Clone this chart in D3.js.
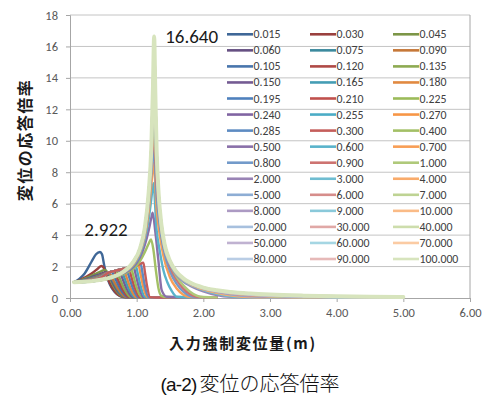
<!DOCTYPE html>
<html><head><meta charset="utf-8">
<script src="https://cdn.jsdelivr.net/npm/d3@7"></script>
<style>
html,body{margin:0;padding:0;background:#fff;}
svg{display:block;}
</style></head><body>
<svg id="chart" width="483" height="397"></svg>
<script>
// ---------------- data ----------------
const seriesNames = [
  "0.015","0.030","0.045","0.060","0.075","0.090",
  "0.105","0.120","0.135","0.150","0.165","0.180",
  "0.195","0.210","0.225","0.240","0.255","0.270",
  "0.285","0.300","0.400","0.500","0.600","0.700",
  "0.800","0.900","1.000","2.000","3.000","4.000",
  "5.000","6.000","7.000","8.000","9.000","10.000",
  "20.000","30.000","40.000","50.000","60.000","70.000",
  "80.000","90.000","100.000"
];

const xTicks = [0, 1, 2, 3, 4, 5, 6];
const yTicks = [0, 2, 4, 6, 8, 10, 12, 14, 16, 18];

// smallest amplitudes: early peak, then drop
const fanSeries = [
  [[0.06,1.00],[0.14,1.22],[0.22,1.56],[0.32,2.29],[0.39,2.78],[0.45,2.922],[0.48,2.78],[0.51,2.15],[0.55,1.40],[0.60,0.85],[0.67,0.38],[0.75,0.12],[0.84,0.04],[2.20,0.02]],
  [[0.06,1.00],[0.15,1.14],[0.25,1.36],[0.35,1.64],[0.42,1.88],[0.47,2.04],[0.50,1.96],[0.53,1.68],[0.57,1.20],[0.62,0.75],[0.69,0.33],[0.77,0.10],[0.86,0.04],[2.20,0.02]],
  [[0.06,1.00],[0.15,1.11],[0.25,1.28],[0.35,1.47],[0.45,1.66],[0.52,1.78],[0.55,1.70],[0.58,1.45],[0.62,1.05],[0.67,0.62],[0.73,0.28],[0.80,0.09],[0.88,0.04],[2.20,0.02]],
  [[0.06,1.00],[0.15,1.09],[0.25,1.22],[0.35,1.37],[0.45,1.52],[0.55,1.64],[0.575,1.57],[0.60,1.38],[0.64,1.00],[0.69,0.60],[0.75,0.27],[0.82,0.08],[0.90,0.04],[2.20,0.02]],
  [[0.06,1.00],[0.15,1.08],[0.25,1.19],[0.35,1.31],[0.45,1.44],[0.565,1.60],[0.59,1.52],[0.62,1.30],[0.66,0.95],[0.71,0.56],[0.77,0.24],[0.84,0.07],[0.92,0.04],[2.20,0.02]]
];

// 0.090 - 0.300: climb along a common branch, then jump down
const combSeries = [
  [[0.06,1.00],[0.15,1.06],[0.30,1.22],[0.45,1.42],[0.58,1.62],[0.645,1.17],[0.723,0.57],[0.84,0.06],[0.92,0.03],[2.20,0.02]],
  [[0.06,1.00],[0.15,1.06],[0.30,1.21],[0.45,1.40],[0.58,1.62],[0.62,1.67],[0.681,1.20],[0.755,0.58],[0.865,0.06],[0.945,0.03],[2.20,0.02]],
  [[0.06,1.00],[0.15,1.055],[0.30,1.20],[0.45,1.39],[0.58,1.62],[0.655,1.71],[0.713,1.23],[0.782,0.60],[0.885,0.06],[0.965,0.03],[2.20,0.02]],
  [[0.06,1.00],[0.15,1.055],[0.30,1.19],[0.45,1.37],[0.58,1.62],[0.69,1.74],[0.745,1.25],[0.811,0.61],[0.91,0.06],[0.99,0.03],[2.20,0.02]],
  [[0.06,1.00],[0.15,1.05],[0.30,1.18],[0.45,1.36],[0.58,1.62],[0.69,1.74],[0.73,1.78],[0.783,1.28],[0.846,0.62],[0.94,0.06],[1.02,0.03],[2.20,0.02]],
  [[0.06,1.00],[0.15,1.05],[0.30,1.17],[0.45,1.35],[0.58,1.62],[0.69,1.74],[0.765,1.81],[0.815,1.30],[0.875,0.63],[0.965,0.06],[1.045,0.03],[2.20,0.02]],
  [[0.06,1.00],[0.15,1.045],[0.30,1.16],[0.45,1.34],[0.58,1.62],[0.69,1.74],[0.80,1.85],[0.848,1.33],[0.905,0.65],[0.99,0.06],[1.07,0.03],[2.20,0.02]],
  [[0.06,1.00],[0.15,1.045],[0.30,1.15],[0.45,1.33],[0.58,1.62],[0.69,1.74],[0.80,1.85],[0.84,1.89],[0.885,1.36],[0.939,0.66],[1.02,0.06],[1.10,0.03],[2.20,0.02]],
  [[0.06,1.00],[0.15,1.04],[0.30,1.14],[0.45,1.32],[0.58,1.62],[0.69,1.74],[0.80,1.85],[0.875,1.93],[0.918,1.39],[0.969,0.68],[1.045,0.06],[1.125,0.03],[2.20,0.02]],
  [[0.06,1.00],[0.15,1.04],[0.30,1.14],[0.45,1.31],[0.58,1.62],[0.69,1.74],[0.80,1.85],[0.91,1.97],[0.95,1.42],[0.998,0.69],[1.07,0.06],[1.15,0.03],[2.20,0.02]],
  [[0.06,1.00],[0.15,1.035],[0.30,1.13],[0.45,1.30],[0.58,1.62],[0.69,1.74],[0.80,1.85],[0.91,1.97],[0.95,2.01],[0.988,1.45],[1.033,0.70],[1.10,0.06],[1.18,0.03],[2.20,0.02]],
  [[0.06,1.00],[0.15,1.035],[0.30,1.12],[0.45,1.29],[0.58,1.62],[0.69,1.74],[0.80,1.85],[0.91,1.97],[0.985,2.06],[1.02,1.48],[1.062,0.72],[1.125,0.06],[1.205,0.03],[2.20,0.02]],
  [[0.06,1.00],[0.15,1.03],[0.30,1.12],[0.45,1.28],[0.58,1.62],[0.69,1.74],[0.80,1.85],[0.91,1.97],[1.025,2.11],[1.058,1.52],[1.097,0.74],[1.155,0.06],[1.235,0.03],[2.20,0.02]],
  [[0.06,1.00],[0.15,1.03],[0.30,1.11],[0.45,1.27],[0.58,1.62],[0.69,1.74],[0.80,1.85],[0.91,1.97],[1.025,2.11],[1.06,2.17],[1.089,1.56],[1.123,0.76],[1.175,0.06],[1.255,0.03],[2.20,0.02]],
  [[0.06,1.00],[0.15,1.03],[0.30,1.11],[0.45,1.26],[0.58,1.62],[0.69,1.74],[0.80,1.85],[0.91,1.97],[1.025,2.11],[1.10,2.24],[1.125,1.61],[1.155,0.78],[1.20,0.06],[1.28,0.03],[2.20,0.02]]
];

// 0.400 - 1.000: resonance peaks that collapse right after the peak
const midSeries = [
  [[0.06,1.00],[0.30,1.05],[0.60,1.25],[0.80,1.52],[0.95,1.85],[1.05,2.35],[1.12,2.90],[1.18,3.45],[1.215,3.73],[1.25,3.10],[1.29,1.70],[1.33,0.55],[1.37,0.14],[1.45,0.06],[2.20,0.04]],
  [[0.06,1.00],[0.30,1.05],[0.60,1.26],[0.80,1.56],[0.95,1.98],[1.05,2.60],[1.12,3.35],[1.18,4.30],[1.22,5.10],[1.24,5.43],[1.28,4.20],[1.325,2.42],[1.375,0.50],[1.45,0.08],[1.60,0.05],[2.20,0.04]],
  [[0.06,1.00],[0.30,1.05],[0.60,1.27],[0.80,1.60],[0.95,2.08],[1.05,2.78],[1.12,3.70],[1.18,5.00],[1.22,6.30],[1.25,7.30],[1.30,4.30],[1.35,2.90],[1.40,1.78],[1.46,1.00],[1.525,0.45],[1.60,0.08],[1.75,0.05],[2.20,0.04]],
  [[0.06,1.00],[0.30,1.06],[0.60,1.27],[0.80,1.62],[0.95,2.14],[1.05,2.90],[1.12,3.90],[1.18,5.50],[1.22,7.20],[1.255,8.60],[1.30,5.60],[1.35,3.90],[1.40,2.70],[1.50,1.30],[1.60,0.60],[1.70,0.20],[1.80,0.06],[2.20,0.04]],
  [[0.06,1.00],[0.30,1.06],[0.60,1.28],[0.80,1.63],[0.95,2.20],[1.05,3.00],[1.12,4.05],[1.18,5.90],[1.22,7.90],[1.255,9.40],[1.30,6.40],[1.35,4.50],[1.40,3.20],[1.50,1.70],[1.60,0.90],[1.70,0.40],[1.80,0.12],[1.90,0.05],[2.20,0.04]],
  [[0.06,1.00],[0.30,1.06],[0.60,1.28],[0.80,1.64],[0.95,2.24],[1.05,3.05],[1.12,4.20],[1.18,6.20],[1.22,8.50],[1.258,10.20],[1.30,7.20],[1.35,5.00],[1.40,3.60],[1.50,2.00],[1.60,1.15],[1.70,0.60],[1.80,0.25],[1.90,0.08],[2.00,0.05],[2.20,0.04]],
  [[0.06,1.00],[0.30,1.06],[0.60,1.28],[0.80,1.65],[0.95,2.27],[1.05,3.10],[1.12,4.30],[1.18,6.40],[1.22,8.90],[1.26,11.10],[1.30,8.00],[1.35,5.50],[1.40,3.90],[1.50,2.20],[1.60,1.35],[1.70,0.80],[1.80,0.40],[1.90,0.15],[2.00,0.06],[2.20,0.04]]
];

// 2.000 - 100.000 share one set of input amplitudes
const xHigh = [0.06,0.30,0.60,0.80,0.95,1.05,1.12,1.18,1.22,1.245,1.262,1.28,1.30,1.33,1.37,1.42,1.50,1.60,1.70,1.80,2.00,2.20,2.40,2.70,3.00,3.50,4.00,4.50,5.00];
const highSeries = [
  [1.00,1.06,1.29,1.66,2.28,3.10,4.30,6.40,9.00,11.8,12.6,10.6,8.20,5.90,4.20,3.00,2.10,1.45,1.05,0.78,0.42,0.18,0.07,0.04,0.035,0.03,0.025,0.02,0.02],
  [1.00,1.06,1.29,1.66,2.29,3.12,4.34,6.50,9.20,12.4,13.4,11.3,8.60,6.10,4.35,3.10,2.18,1.50,1.10,0.84,0.50,0.26,0.11,0.045,0.035,0.03,0.025,0.02,0.02],
  [1.00,1.06,1.29,1.67,2.29,3.13,4.36,6.55,9.35,12.8,14.0,11.8,8.80,6.30,4.45,3.20,2.22,1.54,1.14,0.88,0.55,0.33,0.17,0.06,0.04,0.03,0.025,0.02,0.02],
  [1.00,1.06,1.29,1.67,2.30,3.14,4.37,6.60,9.45,13.0,14.5,12.1,9.00,6.40,4.52,3.26,2.26,1.57,1.17,0.91,0.59,0.39,0.24,0.10,0.05,0.035,0.03,0.025,0.02],
  [1.00,1.06,1.29,1.67,2.30,3.14,4.38,6.63,9.50,13.1,14.9,12.4,9.10,6.45,4.58,3.30,2.29,1.60,1.20,0.93,0.62,0.43,0.29,0.15,0.07,0.04,0.03,0.025,0.02],
  [1.00,1.06,1.29,1.67,2.30,3.15,4.39,6.65,9.52,13.2,15.2,12.6,9.20,6.50,4.62,3.33,2.31,1.62,1.22,0.95,0.64,0.45,0.32,0.20,0.11,0.05,0.035,0.03,0.025],
  [1.00,1.06,1.29,1.67,2.30,3.15,4.39,6.67,9.55,13.3,15.5,12.7,9.20,6.55,4.65,3.36,2.33,1.63,1.23,0.96,0.65,0.47,0.35,0.23,0.15,0.07,0.04,0.03,0.025],
  [1.00,1.06,1.29,1.67,2.30,3.15,4.40,6.68,9.57,13.4,15.7,12.8,9.25,6.57,4.67,3.38,2.34,1.64,1.24,0.97,0.65,0.48,0.36,0.25,0.17,0.10,0.05,0.035,0.03],
  [1.00,1.06,1.29,1.67,2.30,3.15,4.40,6.68,9.58,13.4,15.9,12.9,9.27,6.58,4.68,3.39,2.34,1.64,1.24,0.97,0.66,0.48,0.37,0.26,0.19,0.12,0.07,0.04,0.03],
  [1.00,1.06,1.29,1.67,2.30,3.15,4.40,6.69,9.59,13.4,16.3,12.9,9.28,6.59,4.69,3.39,2.34,1.64,1.24,0.97,0.65,0.47,0.36,0.26,0.20,0.13,0.09,0.065,0.05],
  [1.00,1.06,1.29,1.67,2.30,3.15,4.40,6.69,9.59,13.45,16.45,12.95,9.29,6.60,4.69,3.39,2.35,1.65,1.24,0.975,0.655,0.48,0.37,0.27,0.205,0.14,0.10,0.072,0.056],
  [1.00,1.06,1.29,1.67,2.30,3.15,4.40,6.70,9.60,13.5,16.5,13.0,9.30,6.60,4.70,3.40,2.35,1.65,1.25,0.98,0.66,0.485,0.375,0.275,0.21,0.145,0.105,0.078,0.06],
  [1.00,1.06,1.29,1.67,2.30,3.15,4.40,6.70,9.60,13.5,16.55,13.0,9.30,6.60,4.70,3.40,2.35,1.64,1.23,0.95,0.62,0.44,0.32,0.22,0.16,0.10,0.07,0.05,0.04],
  [1.00,1.06,1.29,1.67,2.30,3.15,4.40,6.70,9.60,13.5,16.58,13.0,9.30,6.60,4.70,3.40,2.35,1.65,1.25,0.98,0.66,0.488,0.378,0.278,0.213,0.148,0.108,0.083,0.066],
  [1.00,1.06,1.29,1.67,2.30,3.15,4.40,6.70,9.60,13.5,16.6,13.0,9.30,6.60,4.70,3.40,2.35,1.65,1.25,0.98,0.66,0.489,0.379,0.279,0.214,0.149,0.109,0.084,0.067],
  [1.00,1.06,1.29,1.67,2.30,3.15,4.40,6.70,9.60,13.5,16.62,13.0,9.30,6.60,4.70,3.40,2.35,1.65,1.25,0.98,0.66,0.49,0.38,0.28,0.215,0.15,0.11,0.085,0.068],
  [1.00,1.06,1.29,1.67,2.30,3.15,4.40,6.70,9.60,13.5,16.63,13.0,9.30,6.60,4.70,3.40,2.35,1.65,1.25,0.98,0.66,0.49,0.38,0.28,0.215,0.15,0.11,0.085,0.068],
  [1.00,1.06,1.29,1.67,2.30,3.15,4.40,6.70,9.60,13.5,16.64,13.0,9.30,6.60,4.70,3.40,2.35,1.65,1.25,0.98,0.66,0.49,0.38,0.28,0.215,0.15,0.11,0.085,0.068]
];

// ---------------- styling ----------------
const basePalette = ["#4F81BD","#C0504D","#9BBB59","#8064A2","#4BACC6","#F79646"];
// one brightness step per group of six series: darker first, paler last
const shadeSteps = [-0.2, -0.09, 0, 0.08, 0.2, 0.35, 0.5, 0.6];
function seriesColor(i) {
  const c = d3.rgb(basePalette[i % 6]);
  const s = shadeSteps[Math.floor(i / 6)];
  const target = s < 0 ? d3.rgb(0, 0, 0) : d3.rgb(255, 255, 255);
  return d3.interpolateRgb(c, target)(Math.abs(s));
}

const numFont = "Carlito, Lato, 'Liberation Sans', sans-serif";
const cjkFont = "'Noto Sans CJK JP', 'Noto Sans CJK SC', sans-serif";

// ---------------- chart ----------------
const svg = d3.select("#chart");
const plot = { left: 70, right: 470, top: 15, bottom: 298 };

const x = d3.scaleLinear().domain([0, 6]).range([plot.left, plot.right]);
const y = d3.scaleLinear().domain([0, 18]).range([plot.bottom, plot.top]);

// horizontal gridlines
svg.append("g")
  .selectAll("line")
  .data(yTicks.filter(v => v > 0))
  .join("line")
  .attr("x1", plot.left).attr("x2", plot.right)
  .attr("y1", d => y(d)).attr("y2", d => y(d))
  .attr("stroke", "#c4c4c4").attr("stroke-width", 1);

// right border of the plot area
svg.append("line")
  .attr("x1", plot.right).attr("x2", plot.right)
  .attr("y1", plot.top).attr("y2", plot.bottom)
  .attr("stroke", "#a6a6a6");

// axes
const xAxis = d3.axisBottom(x).tickValues(xTicks).tickFormat(d3.format(".2f")).tickSize(4).tickPadding(6);
const yAxis = d3.axisLeft(y).tickValues(yTicks).tickFormat(d3.format("d")).tickSize(4).tickPadding(8);

const gx = svg.append("g").attr("transform", `translate(0,${plot.bottom})`).call(xAxis);
const gy = svg.append("g").attr("transform", `translate(${plot.left},0)`).call(yAxis);
[gx, gy].forEach(g => {
  g.select(".domain").attr("stroke", "#a6a6a6");
  g.selectAll(".tick line").attr("stroke", "#a6a6a6");
  g.selectAll(".tick text")
    .attr("fill", "#595959")
    .style("font-family", numFont)
    .style("font-size", "12.5px");
});

// series lines
const allSeries = fanSeries
  .concat(combSeries, midSeries)
  .concat(highSeries.map(ys => xHigh.map((xv, k) => [xv, ys[k]])));

const line = d3.line()
  .x(d => x(d[0]))
  .y(d => y(d[1]))
  .curve(d3.curveMonotoneX);

svg.append("g")
  .attr("fill", "none")
  .attr("stroke-linejoin", "round")
  .attr("stroke-linecap", "round")
  .selectAll("path")
  .data(allSeries)
  .join("path")
  .attr("d", line)
  .attr("stroke", (d, i) => seriesColor(i))
  .attr("stroke-width", (d, i) => i === allSeries.length - 1 ? 4 : 2.4);

// value labels at the first and last series maxima
const fmt = d3.format(".3f");
const firstPeak = d3.greatest(allSeries[0], d => d[1]);
const lastPeak = d3.greatest(allSeries[allSeries.length - 1], d => d[1]);

svg.append("text")
  .attr("x", x(firstPeak[0]) + 6)
  .attr("y", y(firstPeak[1]) - 16)
  .attr("text-anchor", "middle")
  .attr("fill", "#1a1a1a")
  .style("font-family", numFont).style("font-size", "19px")
  .text(fmt(firstPeak[1]));

svg.append("text")
  .attr("x", x(lastPeak[0]) + 11)
  .attr("y", y(lastPeak[1]) + 7)
  .attr("text-anchor", "start")
  .attr("fill", "#1a1a1a")
  .style("font-family", numFont).style("font-size", "19px")
  .text(fmt(lastPeak[1]));

// legend: three columns, reading order left to right
const legend = svg.append("g");
const legendCols = [227, 310, 393];
const legendRow0 = 34.3, legendStep = 16.05;
seriesNames.forEach((name, i) => {
  const cx = legendCols[i % 3];
  const cy = legendRow0 + Math.floor(i / 3) * legendStep;
  legend.append("line")
    .attr("x1", cx).attr("x2", cx + 26)
    .attr("y1", cy).attr("y2", cy)
    .attr("stroke", seriesColor(i)).attr("stroke-width", 2.6);
  legend.append("text")
    .attr("x", cx + 26.5).attr("y", cy + 4)
    .attr("fill", "#404040")
    .style("font-family", numFont).style("font-size", "11.8px")
    .text(name);
});

// axis titles
svg.append("text")
  .attr("transform", "translate(31,140) rotate(-90)")
  .attr("text-anchor", "middle")
  .attr("fill", "#1a1a1a")
  .style("font-family", cjkFont).style("font-weight", "bold")
  .style("font-size", "16px").style("letter-spacing", "1.5px")
  .text("変位の応答倍率");

svg.append("text")
  .attr("x", 243).attr("y", 349)
  .attr("text-anchor", "middle")
  .attr("fill", "#1a1a1a")
  .style("font-family", cjkFont).style("font-weight", "bold")
  .style("font-size", "15px").style("letter-spacing", "1.7px")
  .text("入力強制変位量(m)");

// caption
const cap = svg.append("text")
  .attr("x", 250).attr("y", 391)
  .attr("text-anchor", "middle")
  .attr("fill", "#111");
cap.append("tspan")
  .style("font-family", "'Liberation Sans Narrow', 'Liberation Sans', sans-serif")
  .style("font-size", "19px").style("letter-spacing", "-0.8px")
  .text("(a-2)");
cap.append("tspan")
  .attr("dx", 3)
  .style("font-family", cjkFont).style("font-weight", "300")
  .style("font-size", "20px")
  .text("変位の応答倍率");
</script>
</body></html>
